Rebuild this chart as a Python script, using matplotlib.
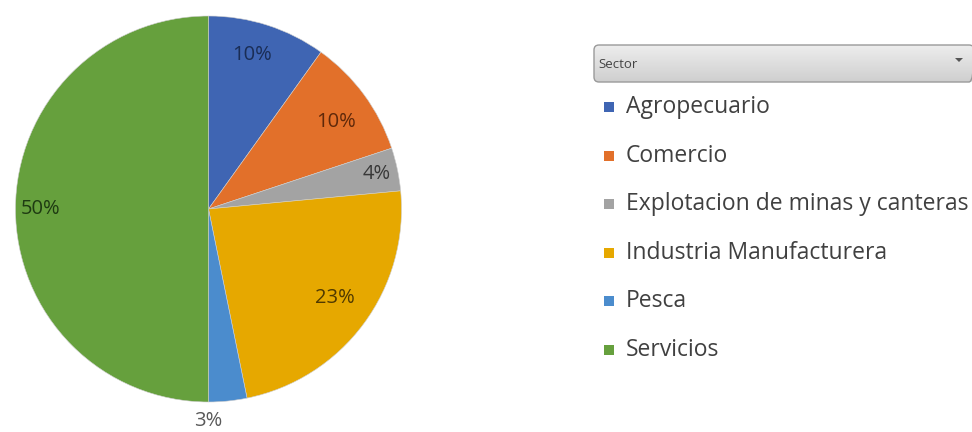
import matplotlib.pyplot as plt
import numpy as np
from matplotlib.patches import FancyBboxPatch, Rectangle, Polygon
from matplotlib.colors import LinearSegmentedColormap

# Sector shares
sectors = ["Agropecuario", "Comercio", "Explotacion de minas y canteras",
           "Industria Manufacturera", "Pesca", "Servicios"]
shares = [9.9, 10.0, 3.6, 23.3, 3.2, 50.0]
labels = ["10%", "10%", "4%", "23%", "3%", "50%"]

colors = ["#3F65B3", "#E2702A", "#A3A3A3", "#E6A800", "#4B8CCD", "#66A03D"]
label_colors = ["#1A2D55", "#5E280A", "#383838", "#4F3900", "#595959", "#1E3A12"]
# label placement (radius as fraction of pie radius, angle nudge in degrees)
label_radius = [0.83, 0.80, 0.89, 0.80, 1.10, 0.87]
label_nudge = [2, -2, 0, 1.2, -5.8, 0]

W, H = 972, 432
fig = plt.figure(figsize=(W / 100, H / 100), dpi=100)
plt.rcParams['font.family'] = ['Open Sans', 'DejaVu Sans']

# pie area: centre (208.5, 209), radius 193 px
R = 193
ax = fig.add_axes([(208.5 - R) / W, (H - 209 - R) / H, 2 * R / W, 2 * R / H])
wedges, _ = ax.pie(shares, colors=colors, startangle=90, counterclock=False,
                   radius=1.0, wedgeprops=dict(linewidth=0.4, edgecolor="#cfcfcf"))
ax.set_xlim(-1, 1)
ax.set_ylim(-1, 1)
ax.set_aspect("equal")
ax.axis("off")

for w, lab, lc, rf, nd in zip(wedges, labels, label_colors, label_radius, label_nudge):
    ang = np.deg2rad((w.theta1 + w.theta2) / 2 + nd)
    ax.text(rf * np.cos(ang), rf * np.sin(ang), lab, ha="center", va="center",
            fontsize=14.5, color=lc, clip_on=False)

# legend header ("Sector" dropdown)
lx = fig.add_axes([0, 0, 1, 1])
lx.set_xlim(0, W)
lx.set_ylim(H, 0)
lx.axis("off")
lx.patch.set_alpha(0)

grad = np.linspace(0, 1, 50).reshape(-1, 1)
img = lx.imshow(grad, extent=(594, 972, 82, 45),
                cmap=LinearSegmentedColormap.from_list("g", ["#EDEDED", "#CFCFCF"]),
                aspect="auto", zorder=1)
box = FancyBboxPatch((594, 45), 380, 37, boxstyle="round,pad=0,rounding_size=5",
                     facecolor="none", edgecolor="#9A9A9A", linewidth=1.0, zorder=2)
lx.add_patch(box)
img.set_clip_path(box)
lx.text(598, 64, "Sector", fontsize=9.5, color="#444444", va="center", ha="left", zorder=3)
lx.add_patch(Polygon([[955, 58], [963, 58], [959, 62]], closed=True,
                     facecolor="#555555", edgecolor="none", zorder=3))

# legend entries
y0, dy = 107, 48.6
for i, (name, c) in enumerate(zip(sectors, colors)):
    y = y0 + i * dy
    lx.add_patch(Rectangle((604, y - 5), 10, 10, facecolor=c, edgecolor="none"))
    lx.text(626, y, name, fontsize=16.5, color="#404040", va="center", ha="left")

fig.savefig("out.png", dpi=100)
